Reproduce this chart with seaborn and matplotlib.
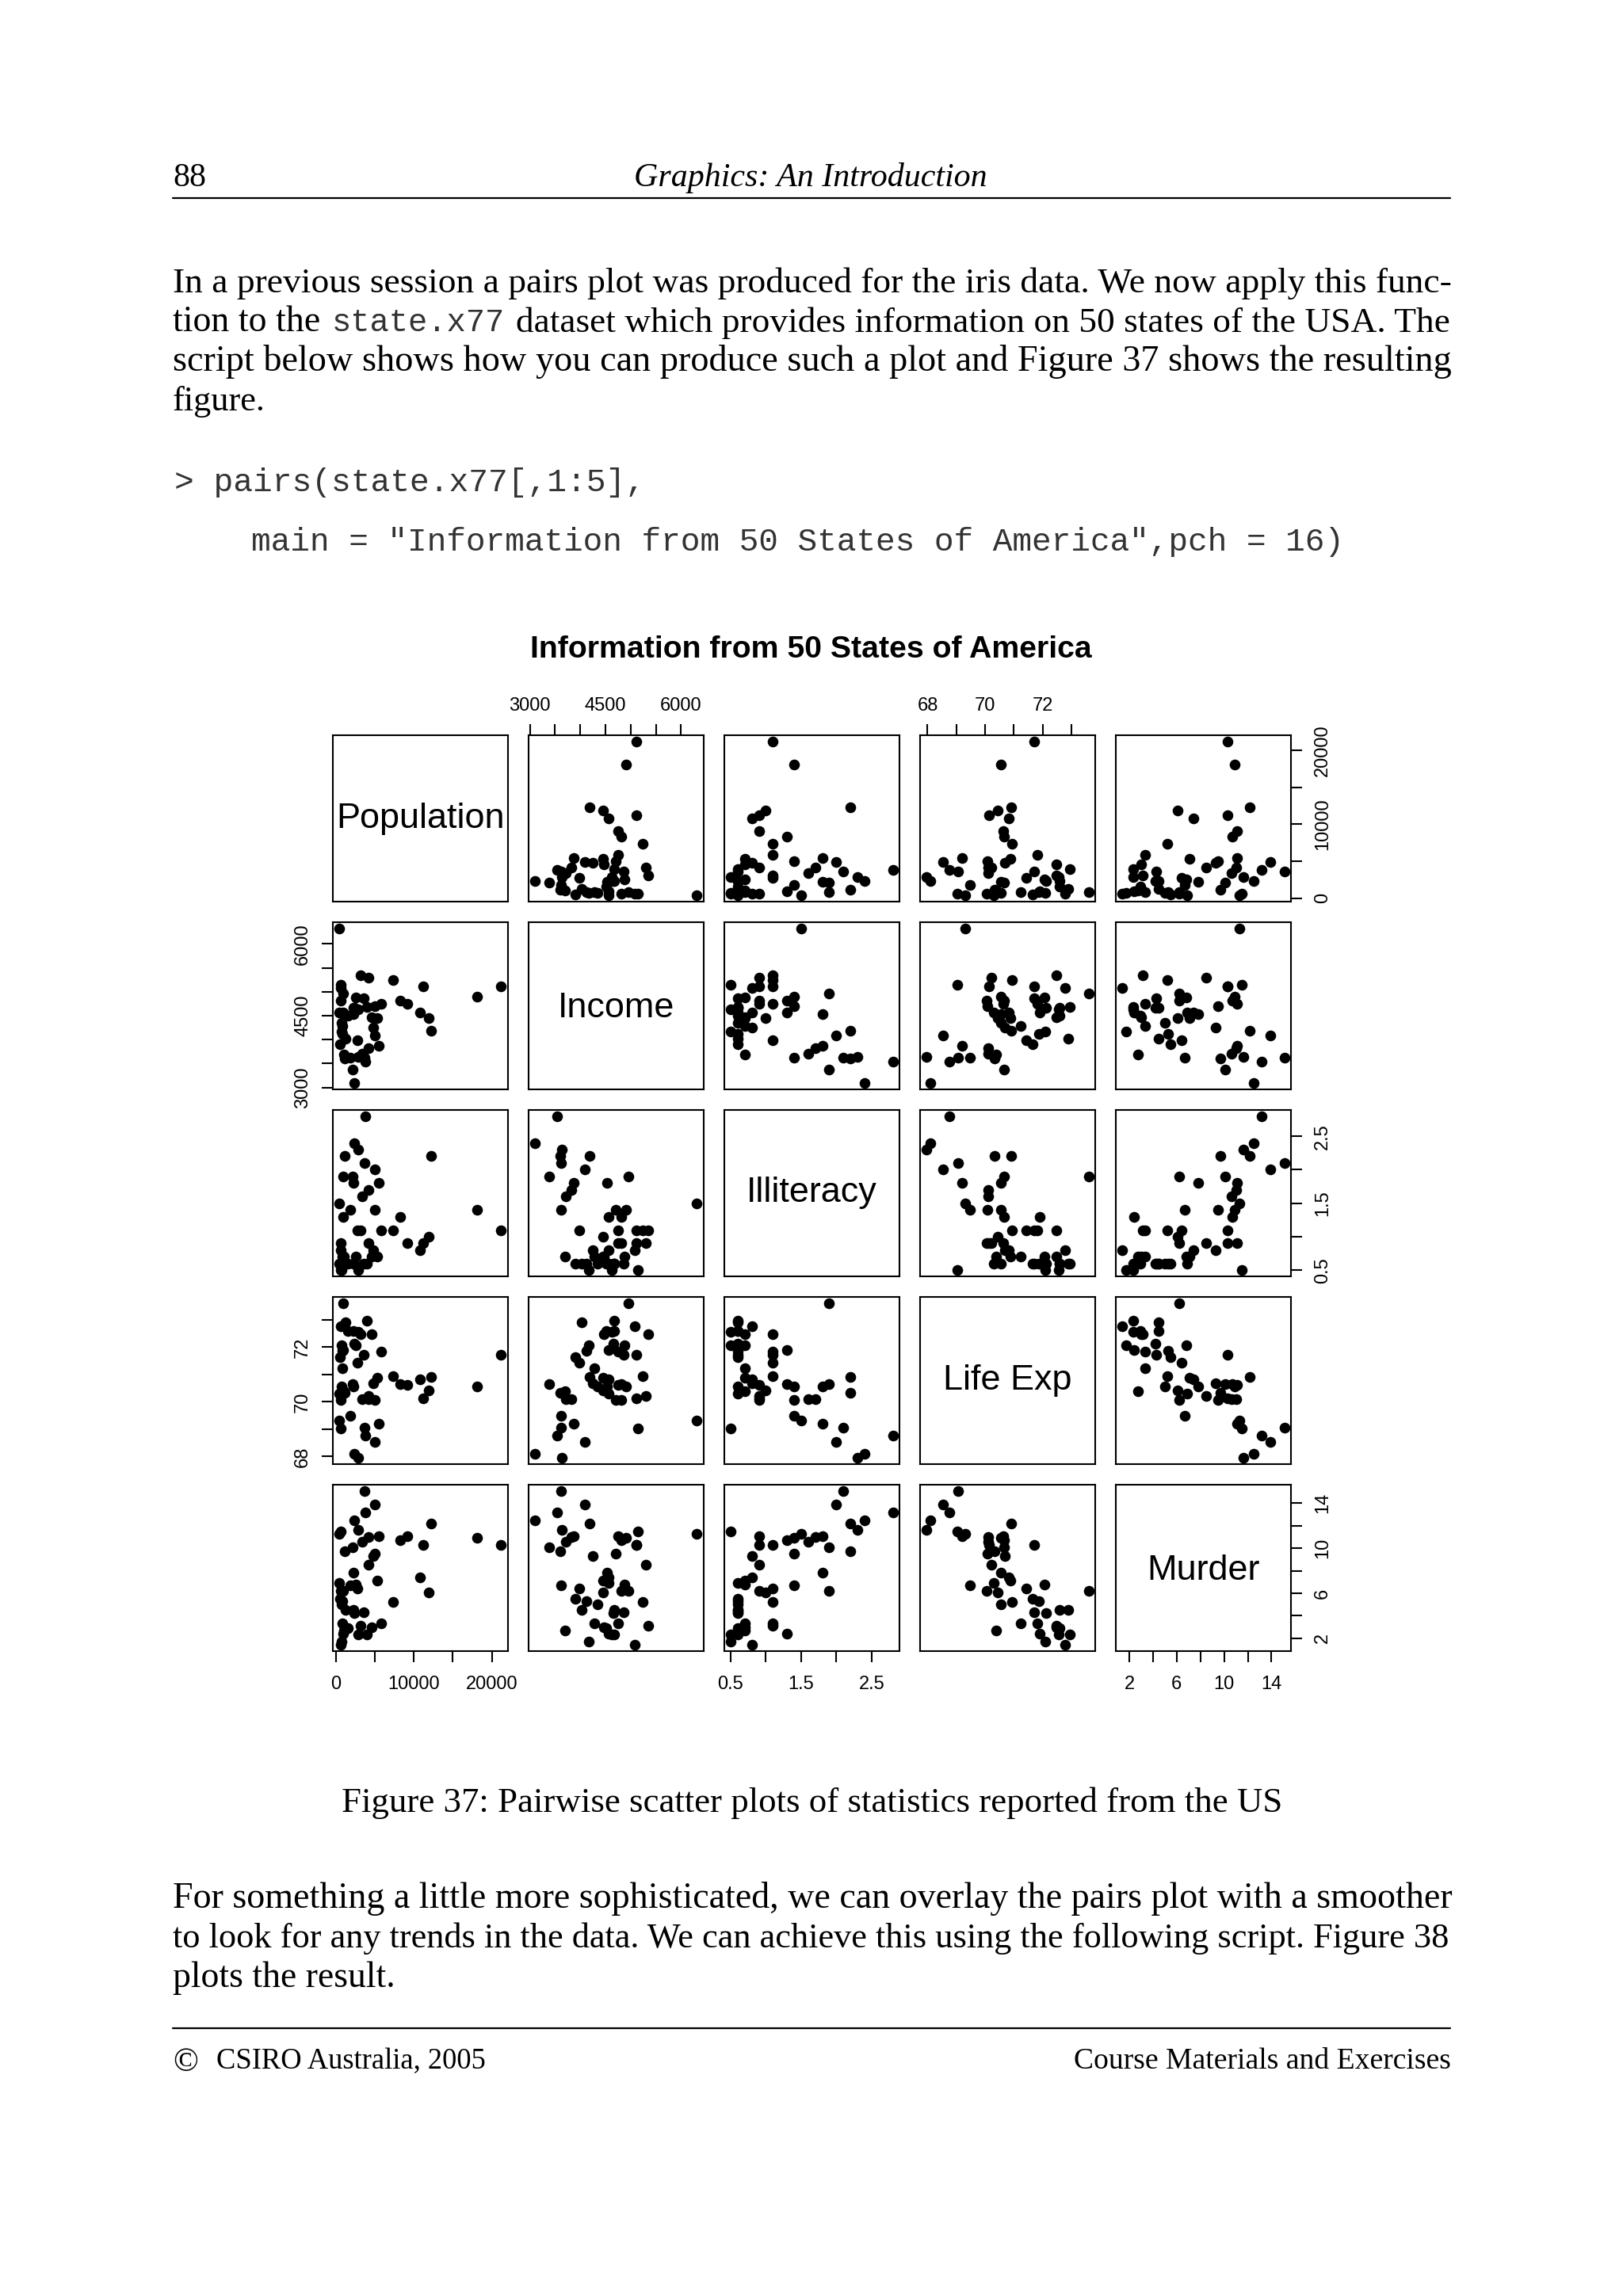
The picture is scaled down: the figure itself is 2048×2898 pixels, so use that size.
# Pairs plot of state.x77 on a book page
import matplotlib
matplotlib.use('Agg')
import pandas as pd
import matplotlib.pyplot as plt
import seaborn as sns
from matplotlib.lines import Line2D

# Data
population = [3615, 365, 2212, 2110, 21198, 2541, 3100, 579, 8277, 4931,
              868, 813, 11197, 5313, 2861, 2280, 3387, 3806, 1058, 4122,
              5814, 9111, 3921, 2341, 4767, 746, 1544, 590, 812, 7333,
              1144, 18076, 5441, 637, 10735, 2715, 2284, 11860, 931, 2816,
              681, 4173, 12237, 1203, 472, 4981, 3559, 1799, 4589, 376]
income = [3624, 6315, 4530, 3378, 5114, 4884, 5348, 4809, 4815, 4091,
          4963, 4119, 5107, 4458, 4628, 4669, 3712, 3545, 3694, 5299,
          4755, 4751, 4675, 3098, 4254, 4347, 4508, 5149, 4281, 5237,
          3601, 4903, 3875, 5087, 4561, 3983, 4660, 4449, 4558, 3635,
          4167, 3821, 4188, 4022, 3907, 4701, 4864, 3617, 4468, 4566]
illiteracy = [2.1, 1.5, 1.8, 1.9, 1.1, 0.7, 1.1, 0.9, 1.3, 2.0,
              1.9, 0.6, 0.9, 0.7, 0.5, 0.6, 1.6, 2.8, 0.7, 0.9,
              1.1, 0.9, 0.6, 2.4, 0.8, 0.6, 0.6, 0.5, 0.7, 1.1,
              2.2, 1.4, 1.8, 0.8, 0.8, 1.1, 0.6, 1.0, 1.3, 2.3,
              0.5, 1.7, 2.2, 0.6, 0.6, 1.4, 0.6, 1.4, 0.7, 0.6]
life_exp = [69.05, 69.31, 70.55, 70.66, 71.71, 72.06, 72.48, 70.06, 70.66, 68.54,
            73.60, 71.87, 70.14, 70.88, 72.56, 72.58, 70.10, 68.76, 70.39, 70.22,
            71.83, 70.63, 72.96, 68.09, 70.69, 70.56, 72.60, 69.03, 71.23, 70.93,
            70.32, 70.55, 69.21, 72.78, 70.82, 71.42, 72.13, 70.43, 71.90, 67.96,
            72.08, 70.11, 70.90, 72.90, 71.64, 70.08, 71.72, 69.48, 72.48, 70.29]
murder = [15.1, 11.3, 7.8, 10.1, 10.3, 6.8, 3.1, 6.2, 10.7, 13.9,
          6.2, 5.3, 10.3, 7.1, 2.3, 4.5, 10.6, 13.2, 2.7, 8.5,
          3.3, 11.1, 2.3, 12.5, 9.3, 5.0, 2.9, 11.5, 3.3, 5.2,
          9.7, 10.9, 11.1, 1.4, 7.4, 6.4, 4.2, 6.1, 2.4, 11.6,
          1.7, 11.0, 12.2, 4.5, 5.5, 9.5, 4.3, 6.7, 3.0, 6.9]

variables = ['Population', 'Income', 'Illiteracy', 'Life Exp', 'Murder']

# Tick positions and the labels R kept on them
pop_ticks = [0, 5000, 10000, 15000, 20000]
pop_labels = ['0', '', '10000', '', '20000']
inc_ticks = [3000, 3500, 4000, 4500, 5000, 5500, 6000]
inc_labels = ['3000', '', '', '4500', '', '', '6000']
ill_ticks = [0.5, 1.0, 1.5, 2.0, 2.5]
ill_labels = ['0.5', '', '1.5', '', '2.5']
life_ticks = [68, 69, 70, 71, 72, 73]
life_labels = ['68', '', '70', '', '72', '']
mur_ticks = [2, 4, 6, 8, 10, 12, 14]
mur_labels = ['2', '', '6', '', '10', '', '14']

df = pd.DataFrame({'Population': population, 'Income': income, 'Illiteracy': illiteracy,
                   'Life Exp': life_exp, 'Murder': murder})

W, H, DPI = 2048, 2898, 200

sns.set_style('ticks')
plt.rcParams['font.family'] = ['Liberation Sans', 'DejaVu Sans']
plt.rcParams['axes.edgecolor'] = 'black'
plt.rcParams['axes.linewidth'] = 0.75
plt.rcParams['xtick.color'] = 'black'
plt.rcParams['ytick.color'] = 'black'

# Pairs plot
g = sns.PairGrid(df, vars=variables, despine=False, height=2)
g.map_offdiag(sns.scatterplot, color='black', s=24, linewidth=0)
g.figure.set_size_inches(W / DPI, H / DPI)
g.figure.set_dpi(DPI)
g.figure.subplots_adjust(left=419.5 / W, right=1629 / W, top=1 - 928 / H, bottom=1 - 2084 / H,
                         wspace=0.118, hspace=0.126)
g.set(xlabel='', ylabel='')
fig = g.figure
axes = g.axes

all_ticks = [pop_ticks, inc_ticks, ill_ticks, life_ticks, mur_ticks]
all_labels = [pop_labels, inc_labels, ill_labels, life_labels, mur_labels]
# names without a descender sit a little lower in their box
name_y = [0.5, 0.484, 0.5, 0.5, 0.484]

for i, name in enumerate(variables):
    lo, hi = df[name].min(), df[name].max()
    pad = 0.04 * (hi - lo)
    axes[0][i].set_xticks(all_ticks[i], labels=all_labels[i])
    axes[i][0].set_yticks(all_ticks[i], labels=all_labels[i])
    axes[0][i].set_xlim(lo - pad, hi + pad)
    axes[i][0].set_ylim(lo - pad, hi + pad)
    axes[i][i].text(0.5, name_y[i], name, transform=axes[i][i].transAxes, ha='center', va='center',
                    fontsize=16.2, color='black')

# No ticks anywhere, then switch on the alternating outer axes
for ax in axes.flat:
    ax.tick_params(axis='both', which='both', bottom=False, top=False, left=False, right=False,
                   labelbottom=False, labeltop=False, labelleft=False, labelright=False,
                   length=5, width=0.75, pad=5.5, labelsize=8.5)
    ax.tick_params(axis='y', labelrotation=90)

for i in [1, 3]:
    axes[0][i].tick_params(axis='x', top=True, labeltop=True, pad=4.5)
    axes[i][0].tick_params(axis='y', left=True, labelleft=True, pad=4.5)
for i in [0, 2, 4]:
    axes[4][i].tick_params(axis='x', bottom=True, labelbottom=True, pad=6)
    axes[i][4].tick_params(axis='y', right=True, labelright=True)
for ax in axes.flat:
    for t in ax.get_yticklabels():
        t.set_va('center')

# Page text, each run fitted to the width it has on the page
renderer = fig.canvas.get_renderer()

def put(x0, x1, base, s, **kw):
    t = fig.text(x0 / W, 1 - base / H, s, ha='left', va='baseline', fontsize=14, color='black', **kw)
    w = t.get_window_extent(renderer).width
    t.set_fontsize(14 * (x1 - x0) / w)
    return t

serif = ['Liberation Serif', 'DejaVu Serif']
mono = ['Liberation Mono', 'DejaVu Sans Mono']

put(218, 260, 235, '88', family=serif)
put(800, 1246, 235, 'Graphics: An Introduction', family=serif, style='italic')
put(218, 1830, 369, 'In a previous session a pairs plot was produced for the iris data. We now apply this func-', family=serif)
put(218, 404, 418.5, 'tion to the', family=serif)
put(419, 638, 418.5, 'state.x77', family=mono).set_color('#333333')
put(651, 1830, 418.5, 'dataset which provides information on 50 states of the USA. The', family=serif)
put(218, 1830, 468.5, 'script below shows how you can produce such a plot and Figure 37 shows the resulting', family=serif)
put(218, 335, 518, 'figure.', family=serif)
put(220, 816, 620, '> pairs(state.x77[,1:5],', family=mono).set_color('#333333')
put(317, 1702, 695, 'main = "Information from 50 States of America",pch = 16)', family=mono).set_color('#333333')
put(669, 1379, 830, 'Information from 50 States of America', weight='bold')
put(431, 1619, 2287, 'Figure 37: Pairwise scatter plots of statistics reported from the US', family=serif)
put(218, 1830, 2408, 'For something a little more sophisticated, we can overlay the pairs plot with a smoother', family=serif)
put(218, 1830, 2458, 'to look for any trends in the data. We can achieve this using the following script. Figure 38', family=serif)
put(218, 498, 2508, 'plots the result.', family=serif)
put(218, 250, 2614, '\u00a9', family=serif)
put(273, 613, 2611, 'CSIRO Australia, 2005', family=serif)
put(1355, 1830, 2611, 'Course Materials and Exercises', family=serif)

# Header and footer rules
for y in [249.5, 2559.5]:
    fig.add_artist(Line2D([218 / W, 1830 / W], [1 - y / H, 1 - y / H], color='black', linewidth=0.8))

fig.savefig('out.png', dpi=DPI, facecolor='white')
